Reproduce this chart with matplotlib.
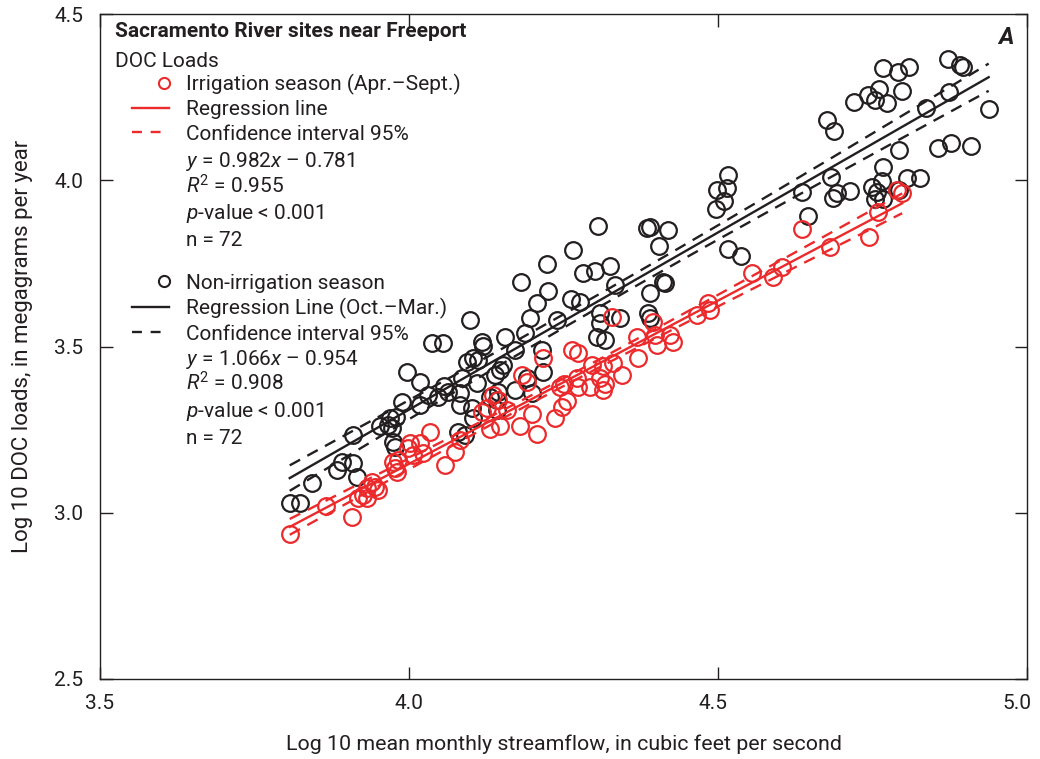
import numpy as np
import matplotlib
matplotlib.use("Agg")
import matplotlib.pyplot as plt
from matplotlib.lines import Line2D
from matplotlib.legend_handler import HandlerLine2D
from matplotlib.transforms import ScaledTranslation

FONTS = ['Roboto', 'DejaVu Sans']
plt.rcParams['font.family'] = FONTS
plt.rcParams['mathtext.fontset'] = 'custom'
plt.rcParams['mathtext.it'] = 'Roboto:italic'
plt.rcParams['mathtext.rm'] = 'Roboto'

# ---- Data (log10 streamflow, log10 DOC load) ----
non_irr_x = [3.807, 3.824, 3.843, 3.884, 3.892, 3.909, 3.916, 3.909, 3.953, 3.966,
             3.973, 3.969, 3.979, 3.989, 3.974, 3.977, 3.997, 4.018, 4.018, 4.031,
             4.047, 4.037, 4.055, 4.057, 4.063, 4.086, 4.094, 4.099, 4.079, 4.083,
             4.083, 4.091, 4.102, 4.104, 4.104, 4.112, 4.110, 4.118, 4.120, 4.131,
             4.139, 4.142, 4.142, 4.144, 4.147, 4.152, 4.155, 4.172, 4.172, 4.188,
             4.191, 4.196, 4.199, 4.207, 4.215, 4.217, 4.239, 4.181, 4.225, 4.223,
             4.265, 4.306, 4.262, 4.277, 4.282, 4.301, 4.325, 4.333, 4.304, 4.309,
             4.309, 4.317, 4.341, 4.390, 4.385, 4.390, 4.419, 4.404, 4.516, 4.498,
             4.515, 4.510, 4.497, 4.516, 4.537, 4.411, 4.414, 4.390, 4.387, 4.636,
             4.646, 4.872, 4.892, 4.896, 4.767, 4.791, 4.809, 4.760, 4.743, 4.754,
             4.773, 4.798, 4.720, 4.676, 4.688, 4.837, 4.874, 4.938, 4.793, 4.856,
             4.877, 4.909, 4.767, 4.683, 4.765, 4.749, 4.757, 4.754, 4.767, 4.806,
             4.827, 4.793, 4.714, 4.693, 4.686]
non_irr_y = [3.029, 3.029, 3.089, 3.128, 3.152, 3.149, 3.107, 3.234, 3.261, 3.264,
             3.255, 3.285, 3.288, 3.333, 3.213, 3.198, 3.423, 3.393, 3.324, 3.354,
             3.348, 3.510, 3.510, 3.381, 3.363, 3.405, 3.453, 3.580, 3.243, 3.360,
             3.324, 3.234, 3.315, 3.285, 3.465, 3.459, 3.390, 3.513, 3.501, 3.348,
             3.414, 3.339, 3.309, 3.363, 3.429, 3.444, 3.528, 3.489, 3.369, 3.540,
             3.405, 3.586, 3.360, 3.631, 3.489, 3.423, 3.580, 3.694, 3.667, 3.748,
             3.790, 3.862, 3.643, 3.634, 3.721, 3.727, 3.742, 3.685, 3.528, 3.571,
             3.601, 3.519, 3.586, 3.586, 3.856, 3.859, 3.850, 3.802, 4.016, 3.971,
             3.977, 3.937, 3.913, 3.793, 3.772, 3.694, 3.691, 3.661, 3.601, 3.965,
             3.892, 4.365, 4.347, 4.341, 4.338, 4.326, 4.341, 4.274, 4.256, 4.241,
             4.232, 4.268, 4.235, 4.181, 4.148, 4.217, 4.265, 4.214, 4.091, 4.097,
             4.112, 4.103, 4.040, 4.010, 3.998, 3.980, 3.965, 3.944, 3.944, 4.007,
             4.007, 3.971, 3.968, 3.962, 3.947]

irr_x = [3.807, 3.866, 3.908, 3.917, 3.926, 3.932, 3.932, 3.940, 3.945, 3.950,
         3.974, 3.982, 3.977, 3.981, 3.998, 4.002, 4.018, 4.023, 4.006, 4.034,
         4.058, 4.074, 4.083, 4.118, 4.126, 4.136, 4.144, 4.131, 4.147, 4.159,
         4.183, 4.191, 4.217, 4.180, 4.199, 4.207, 4.236, 4.248, 4.256, 4.244,
         4.251, 4.264, 4.273, 4.272, 4.273, 4.296, 4.293, 4.309, 4.314, 4.317,
         4.314, 4.328, 4.330, 4.345, 4.369, 4.371, 4.395, 4.398, 4.422, 4.427,
         4.401, 4.466, 4.484, 4.487, 4.555, 4.589, 4.604, 4.636, 4.790, 4.798,
         4.759, 4.681, 4.744]
irr_y = [2.936, 3.020, 2.987, 3.044, 3.053, 3.074, 3.044, 3.092, 3.077, 3.068,
         3.152, 3.158, 3.134, 3.122, 3.195, 3.210, 3.210, 3.180, 3.174, 3.243,
         3.143, 3.183, 3.219, 3.303, 3.315, 3.354, 3.339, 3.252, 3.261, 3.309,
         3.414, 3.393, 3.465, 3.261, 3.297, 3.237, 3.285, 3.318, 3.336, 3.378,
         3.387, 3.489, 3.480, 3.405, 3.378, 3.444, 3.378, 3.405, 3.441, 3.387,
         3.369, 3.589, 3.450, 3.414, 3.528, 3.465, 3.574, 3.534, 3.534, 3.513,
         3.504, 3.595, 3.631, 3.610, 3.721, 3.709, 3.739, 3.853, 3.971, 3.962,
         3.904, 3.799, 3.829]

irr_slope, irr_icpt = 0.982, -0.781
non_slope, non_icpt = 1.066, -0.954

x_ticks = [3.5, 4.0, 4.5, 5.0]
y_ticks = [2.5, 3.0, 3.5, 4.0, 4.5]

irr_labels = ['Irrigation season (Apr.–Sept.)', 'Regression line',
              'Confidence interval 95%']
irr_stats = [r'$y$ = 0.982$x$ – 0.781', r'$R^2$ = 0.955',
             r'$p$-value < 0.001', 'n = 72']
non_labels = ['Non-irrigation season', 'Regression Line (Oct.–Mar.)',
              'Confidence interval 95%']
non_stats = [r'$y$ = 1.066$x$ – 0.954', r'$R^2$ = 0.908',
             r'$p$-value < 0.001', 'n = 72']

RED = '#EC2A2C'
BLK = '#231F20'
FS = 15

fig = plt.figure(figsize=(10.4, 7.59), dpi=100)
ax = fig.add_axes([100/1040, 1-679/759, 927/1040, 665/759])


def fit_and_ci(x, y, slope, icpt):
    x = np.asarray(x); y = np.asarray(y)
    n = len(x)
    res = y - (slope * x + icpt)
    s = np.sqrt(np.sum(res**2) / (n - 2))
    xs = np.linspace(x.min(), x.max(), 200)
    sxx = np.sum((x - x.mean())**2)
    hw = 1.99 * s * np.sqrt(1/n + (xs - x.mean())**2 / sxx)
    yl = slope * xs + icpt
    return xs, yl, yl - hw, yl + hw


for xv, yv, sl, ic, col, z in [(non_irr_x, non_irr_y, non_slope, non_icpt, BLK, 3),
                               (irr_x, irr_y, irr_slope, irr_icpt, RED, 4)]:
    ax.plot(xv, yv, linestyle='none', marker='o', markersize=12,
            markerfacecolor='none', markeredgecolor=col, markeredgewidth=1.6, zorder=z)
    xs, yl, lo, hi = fit_and_ci(xv, yv, sl, ic)
    ax.plot(xs, yl, color=col, lw=1.7, zorder=z+2)
    ax.plot(xs, lo, color=col, lw=1.7, dashes=(5, 3.5), zorder=z+2)
    ax.plot(xs, hi, color=col, lw=1.7, dashes=(5, 3.5), zorder=z+2)

ax.set_xlim(3.5, 5.0)
ax.set_ylim(2.5, 4.5)
ax.set_xticks(x_ticks)
ax.set_yticks(y_ticks)
ax.set_xticklabels([f'{t:.1f}' for t in x_ticks])
ax.set_yticklabels([f'{t:.1f}' for t in y_ticks])
ax.tick_params(direction='in', length=9, width=1.0, top=True, right=True,
               labelsize=FS, colors=BLK, pad=12)
ax.tick_params(axis='x', pad=11)
for sp in ax.spines.values():
    sp.set_linewidth(1.0)
    sp.set_color(BLK)

fig.canvas.draw()
lbls = ax.get_xticklabels()
lbls[-1].set_transform(lbls[-1].get_transform() +
                       ScaledTranslation(-10/100, 0, fig.dpi_scale_trans))
lbls[2].set_transform(lbls[2].get_transform() +
                      ScaledTranslation(-5/100, 0, fig.dpi_scale_trans))

ax.set_xlabel('Log 10 mean monthly streamflow, in cubic feet per second',
              fontsize=15.4, color=BLK, labelpad=15)
ax.set_ylabel('Log 10 DOC loads, in megagrams per year', fontsize=16, color=BLK,
              labelpad=15)

ax.text(0.016, 0.988, 'Sacramento River sites near Freeport', transform=ax.transAxes,
        fontsize=FS, fontweight='bold', va='top', ha='left', color=BLK)
ax.text(0.016, 0.943, 'DOC Loads', transform=ax.transAxes,
        fontsize=FS, va='top', ha='left', color=BLK)
ax.text(0.986, 0.982, 'A', transform=ax.transAxes, fontsize=17, fontweight='bold',
        style='italic', va='top', ha='right', color=BLK)


class RightMarker(HandlerLine2D):
    def get_xdata(self, legend, xdescent, ydescent, width, height, fontsize):
        xd = [0.7 * width - xdescent, 1.0 * width - xdescent]
        return xd, [0.85 * width - xdescent]


def add_legend(col, labels, top):
    hs = [Line2D([], [], linestyle='none', marker='o', markersize=8,
                 markerfacecolor='none', markeredgecolor=col, markeredgewidth=1.5),
          Line2D([], [], color=col, lw=1.7),
          Line2D([], [], color=col, lw=1.7, dashes=(4.2, 3.7))]
    leg = ax.legend(hs, labels, loc='upper left',
                    bbox_to_anchor=(0.0345, top), frameon=False, fontsize=FS,
                    handlelength=1.78, handletextpad=0.82, labelspacing=0.26,
                    borderpad=0, borderaxespad=0,
                    handler_map={hs[0]: RightMarker(numpoints=1)})
    for t in leg.get_texts():
        t.set_color(BLK)
    return leg


def add_stats(lines, baselines):
    for s, b in zip(lines, baselines):
        ax.text(0.0928, b, s, transform=ax.transAxes, fontsize=FS,
                va='baseline', ha='left', color=BLK)


leg1 = add_legend(RED, irr_labels, 0.910)
ax.add_artist(leg1)
add_stats(irr_stats, [0.770, 0.7308, 0.6917, 0.6511])
leg2 = add_legend(BLK, non_labels, 0.6095)
add_stats(non_stats, [0.4722, 0.4331, 0.3940, 0.3534])

fig.savefig('out.png', dpi=100)
